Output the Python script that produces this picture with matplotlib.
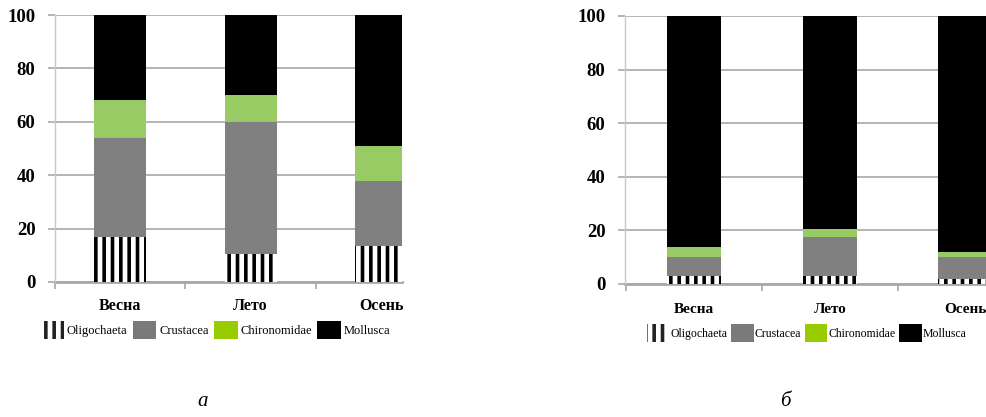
import matplotlib
matplotlib.use("Agg")
import matplotlib.pyplot as plt
from matplotlib.patches import Patch
import numpy as np

plt.rcParams['font.family'] = ['Liberation Serif', 'DejaVu Serif']
plt.rcParams['hatch.linewidth'] = 2.6

seasons = ["Весна", "Лето", "Осень"]
taxa = ["Oligochaeta", "Crustacea", "Chironomidae", "Mollusca"]

# panel а (percent)
a_oligo = [16.8, 10.4, 13.5]
a_crust = [37.0, 49.4, 24.3]
a_chiron = [14.2, 10.1, 13.2]
a_moll = [32.0, 30.1, 49.0]

# panel б (percent)
b_oligo = [3.0, 3.0, 2.0]
b_crust = [6.9, 14.4, 7.9]
b_chiron = [4.0, 3.2, 2.1]
b_moll = [86.1, 79.4, 88.0]

yticks = [0, 20, 40, 60, 80, 100]

GRAY = "#808080"
GREEN_BAR = "#98CB64"
GREEN_LEG = "#99CC00"
GRID = "#a8a8a8"

fig = plt.figure(figsize=(9.86, 4.17), dpi=100)


def panel(rect, xlim, series, label_y, fs_lab):
    ax = fig.add_axes(rect)
    x = np.arange(len(seasons))
    oligo, crust, chiron, moll = series
    bottom = np.zeros(len(seasons))
    w = 0.4
    ax.bar(x, oligo, w, bottom=bottom, color="white", edgecolor="black",
           linewidth=0, hatch="||", zorder=3)
    bottom += np.array(oligo)
    ax.bar(x, crust, w, bottom=bottom, color=GRAY, linewidth=0, zorder=3)
    bottom += np.array(crust)
    ax.bar(x, chiron, w, bottom=bottom, color=GREEN_BAR, linewidth=0, zorder=3)
    bottom += np.array(chiron)
    ax.bar(x, moll, w, bottom=bottom, color="black", linewidth=0, zorder=3)
    ax.set_xlim(*xlim)
    ax.set_ylim(0, 100)
    ax.set_yticks(yticks)
    ax.set_yticklabels([str(v) for v in yticks], fontsize=13.5, fontweight="bold")
    ax.tick_params(axis="y", length=5, width=1.2, color=GRID, pad=9)
    ax.grid(axis="y", color=GRID, linewidth=1.2, zorder=0)
    ax.set_xticks([])
    ax.set_xticks([-0.5, 0.5, 1.5], minor=True)
    ax.tick_params(axis="x", which="minor", length=5, width=1.2, color=GRID)
    for s in ["top", "right"]:
        ax.spines[s].set_visible(False)
    ax.spines["left"].set_color("#c8c8c8")
    ax.spines["left"].set_linewidth(1.0)
    ax.spines["bottom"].set_color(GRID)
    ax.spines["bottom"].set_linewidth(2.0)
    ax.spines["bottom"].set_zorder(2)
    for i, s in enumerate(seasons):
        ax.text(i, label_y, s, transform=ax.get_xaxis_transform(),
                ha="center", va="center", fontsize=fs_lab, fontweight="bold",
                clip_on=False)
    return ax


axA = panel([55 / 986, (417 - 282) / 417, 347 / 986, 267 / 417],
            (-0.5, 2.16), (a_oligo, a_crust, a_chiron, a_moll), -0.09, 11.5)
axB = panel([625 / 986, (417 - 284) / 417, 361 / 986, 268 / 417],
            (-0.51, 2.15), (b_oligo, b_crust, b_chiron, b_moll), -0.097, 11)

handles = [
    Patch(facecolor="white", edgecolor="#222222", linewidth=0, hatch="||"),
    Patch(facecolor="#7a7a7a", linewidth=0),
    Patch(facecolor=GREEN_LEG, linewidth=0),
    Patch(facecolor="black", linewidth=0),
]

fig.legend(handles, taxa, loc="center left",
           bbox_to_anchor=(40 / 986, 1 - 330 / 417), bbox_transform=fig.transFigure,
           ncol=4, frameon=False, fontsize=9, handlelength=1.9, handleheight=1.9,
           handletextpad=0.25, columnspacing=0.4, borderpad=0, borderaxespad=0)
fig.legend(handles, taxa, loc="center left",
           bbox_to_anchor=(647 / 986, 1 - 333 / 417), bbox_transform=fig.transFigure,
           ncol=4, frameon=False, fontsize=8.5, handlelength=1.9, handleheight=1.9,
           handletextpad=0.1, columnspacing=0.3, borderpad=0, borderaxespad=0)

fig.text(203 / 986, 1 - 402 / 417, "а", fontsize=15, style="italic",
         ha="center", va="center")
fig.text(785 / 986, 1 - 402 / 417, "б", fontsize=15, style="italic",
         ha="center", va="center")

fig.savefig("out.png", dpi=100)
